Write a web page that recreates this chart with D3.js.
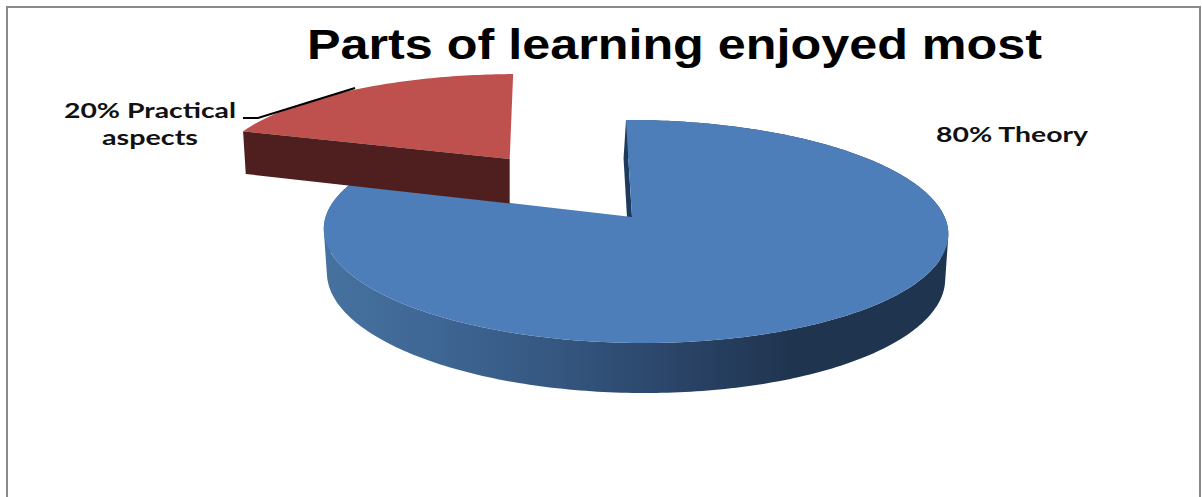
<!DOCTYPE html>
<html>
<head>
<meta charset="utf-8">
<title>Parts of learning enjoyed most</title>
<script src="https://cdn.jsdelivr.net/npm/d3@7"></script>
<style>
  html, body { margin: 0; padding: 0; background: #fff; overflow: hidden; }
  svg { display: block; }
</style>
</head>
<body>
<script>
// Survey results
const chartTitle = "Parts of learning enjoyed most";
const categories = ["Theory", "Practical aspects"];
const shares = [80, 20];

const topColors = ["#4d7eba", "#be504d"];
const cutFaceColors = ["#1d3a5c", "#4f1f1f"];

const width = 1202, height = 497;

const svg = d3.select("body").append("svg")
  .attr("width", width).attr("height", height);

// Tilted-disc projection: pie-plane coordinates to screen, with a little perspective
const centre = { x: 632, y: 217 };
const perspective = { k: 0.13, m: 0.01 };
const sliceViews = [
  { ax: 309.5, ay: 109.6, shear: 6.8, explode: 0, depth: 43.5, pinch: 0.99, pinchX: 635, lean: -2.5, dx: 0, dy: 0 },
  { ax: 318, ay: 109.6, shear: 12, explode: 0.68, depth: 48, pinch: 0.99, pinchX: 510, lean: 0, dx: 2, dy: -2 }
];

function project(view, bisector, angle, radius, lowered) {
  const u = radius * Math.sin(angle) + view.explode * Math.sin(bisector);
  const v = -radius * Math.cos(angle) - view.explode * Math.cos(bisector);
  const w = 1 - perspective.k * v - perspective.m * u;
  const x = centre.x + view.dx + (view.ax * u + view.shear * v) / w;
  const y = centre.y + view.dy + (view.ay * v) / w;
  if (!lowered) return [x, y];
  return [view.pinchX + (x - view.pinchX) * view.pinch, y + view.depth / w];
}

const arcs = d3.pie().sort(null).value(d => d)(shares);
const line = d3.line();

function rim(view, arc, lowered) {
  const mid = (arc.startAngle + arc.endAngle) / 2;
  const n = Math.ceil((arc.endAngle - arc.startAngle) * 60);
  return d3.range(n + 1).map(i =>
    project(view, mid, arc.startAngle + (arc.endAngle - arc.startAngle) * i / n, 1, lowered));
}

// The rim wall as one path of small quads, all wound the same way so none cancel
function rimWall(view, arc) {
  const upper = rim(view, arc, false), lower = rim(view, arc, true);
  return d3.range(upper.length - 1).map(i => {
    const quad = [upper[i], upper[i + 1], lower[i + 1], lower[i]];
    return line(d3.polygonArea(quad) < 0 ? quad.reverse() : quad) + "Z";
  }).join("");
}

function radialFace(view, arc, angle) {
  const mid = (arc.startAngle + arc.endAngle) / 2;
  const drop = p => [p[0] + view.lean, p[1]];
  return [
    project(view, mid, angle, 0, false),
    project(view, mid, angle, 1, false),
    drop(project(view, mid, angle, 1, true)),
    drop(project(view, mid, angle, 0, true))
  ];
}

// Shading along the rim of the large slice
const defs = svg.append("defs");
const rimShade = defs.append("linearGradient")
  .attr("id", "rimShade")
  .attr("gradientUnits", "userSpaceOnUse")
  .attr("x1", 323).attr("x2", 948).attr("y1", 0).attr("y2", 0);
[[0, "#46729f"], [0.17, "#3f6795"], [0.38, "#34567f"], [0.57, "#2a4467"], [0.75, "#1f344f"], [1, "#1f344f"]]
  .forEach(([o, c]) => rimShade.append("stop").attr("offset", o).attr("stop-color", c));

// Frame, open along the bottom
svg.append("path")
  .attr("d", line([[7, height], [7, 7], [1200, 7], [1200, height]]))
  .attr("fill", "none").attr("stroke", "#8a8a8a").attr("stroke-width", 2);

// Title
svg.append("text")
  .attr("x", 307).attr("y", 59)
  .attr("textLength", 735).attr("lengthAdjust", "spacingAndGlyphs")
  .attr("font-family", "Liberation Sans, Arial, sans-serif")
  .attr("font-weight", 700).attr("font-size", 43).attr("fill", "#000")
  .text(chartTitle);

// Large slice: rim, cut face, top
const bigArc = arcs[0], bigView = sliceViews[0];
svg.append("path")
  .attr("d", rimWall(bigView, bigArc))
  .attr("fill", "url(#rimShade)");
svg.append("path")
  .attr("d", line(radialFace(bigView, bigArc, bigArc.startAngle)) + "Z")
  .attr("fill", cutFaceColors[0]);
svg.append("path")
  .attr("d", line([project(bigView, 0, 0, 0, false)].concat(rim(bigView, bigArc, false))) + "Z")
  .attr("fill", topColors[0]);

// Pulled-out slice: cut face, top
const smallArc = arcs[1], smallView = sliceViews[1];
const smallMid = (smallArc.startAngle + smallArc.endAngle) / 2;
svg.append("path")
  .attr("d", line([project(smallView, smallMid, 0, 0, false)].concat(rim(smallView, smallArc, false))) + "Z")
  .attr("fill", topColors[1]);
svg.append("path")
  .attr("d", line(radialFace(smallView, smallArc, smallArc.startAngle)) + "Z")
  .attr("fill", cutFaceColors[1]);

// Leader line for the small slice
svg.append("path")
  .attr("d", line([[243, 118], [258, 118], [355, 88]]))
  .attr("fill", "none").attr("stroke", "#000").attr("stroke-width", 2);

// Data labels
const labelFont = "Lato, Carlito, Calibri, sans-serif";
function label(x, y, len, str) {
  svg.append("text")
    .attr("x", x).attr("y", y)
    .attr("textLength", len).attr("lengthAdjust", "spacingAndGlyphs")
    .attr("font-family", labelFont).attr("font-weight", 700)
    .attr("font-size", 21).attr("fill", "#111")
    .text(str);
}
const practicalWords = categories[1].split(" ");
label(64, 118, 172, `${shares[1]}% ${practicalWords[0]}`);
label(102, 145, 96, practicalWords[1]);
label(936, 142, 152, `${shares[0]}% ${categories[0]}`);
</script>
</body>
</html>
